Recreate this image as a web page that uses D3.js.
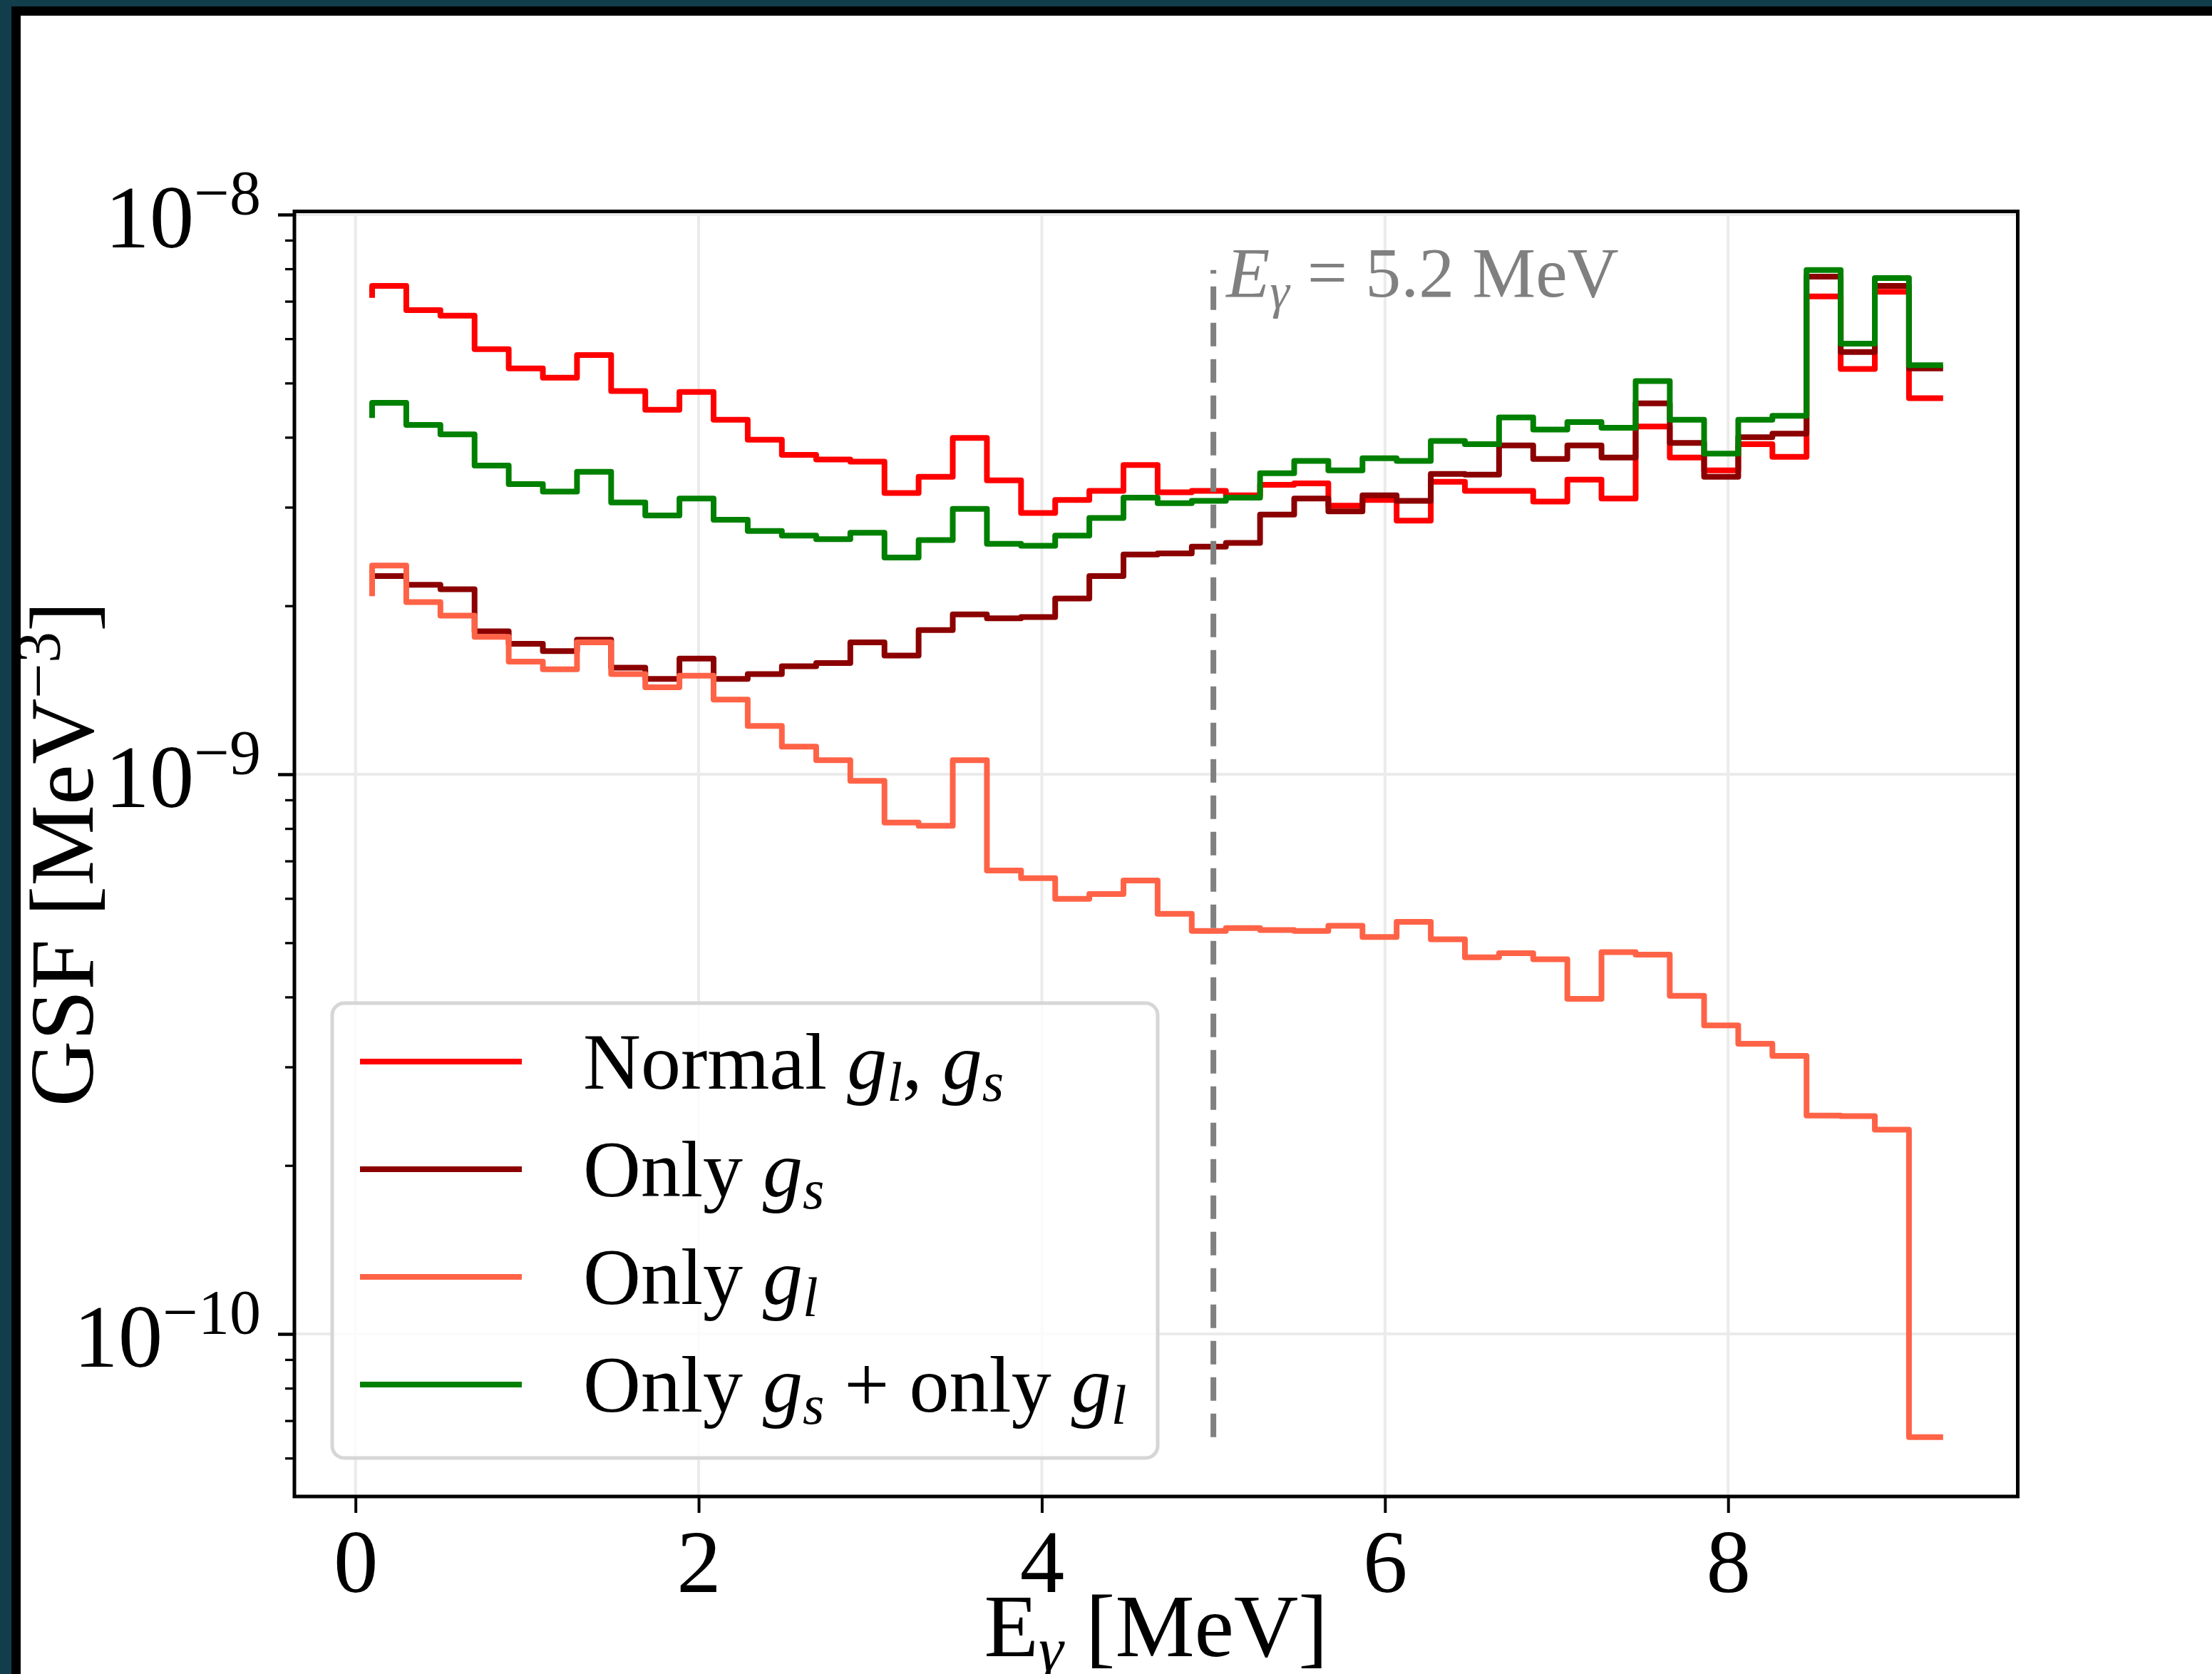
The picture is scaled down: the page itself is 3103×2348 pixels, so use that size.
<!DOCTYPE html>
<html><head><meta charset="utf-8">
<script src="https://cdn.jsdelivr.net/npm/d3@7"></script>
<style>html,body{margin:0;padding:0;background:#123e4c;} svg{display:block}</style>
</head><body>
<script>
// ---- data (GSF values in units of 1e-9 MeV^-3), step 'pre' points at bin edges ----
const binEdges = [0.097,0.296,0.495,0.694,0.893,1.092,1.291,1.490,1.689,1.888,2.087,2.286,2.485,2.685,2.884,3.083,3.282,3.481,3.680,3.879,4.078,4.277,4.476,4.675,4.874,5.073,5.272,5.471,5.670,5.869,6.068,6.267,6.466,6.665,6.864,7.063,7.262,7.461,7.660,7.860,8.059,8.258,8.457,8.656,8.855,9.054,9.253];
const normalGlGs = [7.10,7.46,6.75,6.60,5.75,5.31,5.11,5.61,4.84,4.48,4.82,4.30,3.96,3.72,3.65,3.62,3.18,3.40,3.99,3.35,2.93,3.09,3.21,3.57,3.19,3.21,3.15,3.29,3.31,3.02,3.09,2.84,3.33,3.21,3.21,3.07,3.36,3.11,4.18,3.68,3.49,3.89,3.69,7.14,5.30,7.28,4.70];
const onlyGs = [2.25,2.26,2.18,2.14,1.80,1.71,1.66,1.74,1.55,1.48,1.61,1.48,1.51,1.56,1.58,1.72,1.63,1.81,1.93,1.90,1.91,2.06,2.26,2.47,2.48,2.55,2.59,2.91,3.11,2.95,3.15,3.08,3.44,3.43,3.87,3.66,3.87,3.68,4.60,3.91,3.40,4.00,4.06,7.75,5.68,7.46,5.31];
const onlyGl = [2.08,2.36,2.03,1.92,1.76,1.59,1.54,1.72,1.51,1.43,1.50,1.36,1.22,1.12,1.06,0.973,0.820,0.809,1.06,0.673,0.652,0.599,0.611,0.646,0.563,0.525,0.531,0.527,0.525,0.536,0.512,0.545,0.507,0.471,0.479,0.467,0.397,0.481,0.476,0.402,0.356,0.330,0.314,0.2456,0.245,0.2318,0.0654];
const onlyGsPlusGl = [4.33,4.61,4.21,4.05,3.56,3.30,3.20,3.47,3.06,2.90,3.11,2.85,2.72,2.67,2.63,2.70,2.44,2.62,2.98,2.58,2.56,2.67,2.87,3.12,3.05,3.08,3.12,3.45,3.63,3.49,3.67,3.63,3.94,3.89,4.34,4.13,4.26,4.16,5.04,4.30,3.74,4.30,4.37,7.96,5.88,7.70,5.38];
const unit = 1e-9;
const seriesNames = ["Normal", "Only gs", "Only gl", "Only gs + only gl"];
const seriesColors = ["#ff0000", "#8b0000", "#ff6347", "#008000"];
const xTicks = [0, 2, 4, 6, 8];
const yTickExponents = [-8, -9, -10];
const yMinorMultipliers = [2,3,4,5,6,7,8,9];
const markerEnergy = 5.0;
const markerText = "5.2 MeV";

// ---- layout ----
const W = 3103, H = 2348;
const P = {left: 413, right: 2830.5, top: 296.5, bottom: 2099};
const serif = "'Liberation Serif','DejaVu Serif',serif";

const svg = d3.select("body").append("svg").attr("width", W).attr("height", H);
// outer frame
svg.append("rect").attr("x",0).attr("y",0).attr("width",W).attr("height",H).attr("fill","#123e4c");
svg.append("rect").attr("x",16).attr("y",9).attr("width",W-16).attr("height",H-9).attr("fill","#000");
svg.append("rect").attr("x",29).attr("y",22).attr("width",W-29).attr("height",H-22).attr("fill","#fff");

const x = d3.scaleLinear().domain([-0.356, 9.688]).range([P.left, P.right]);
const y = d3.scaleLog().domain([Math.pow(10,-10.2904), Math.pow(10,-7.9943)]).range([P.bottom, P.top]);

// grid
const grid = svg.append("g").attr("stroke","#ebebeb").attr("stroke-width",4);
xTicks.forEach(t => grid.append("line").attr("x1",x(t)).attr("x2",x(t)).attr("y1",P.top).attr("y2",P.bottom));
yTickExponents.forEach(e => grid.append("line").attr("x1",P.left).attr("x2",P.right).attr("y1",y(Math.pow(10,e))).attr("y2",y(Math.pow(10,e))));

// series
const allSeries = [normalGlGs, onlyGs, onlyGl, onlyGsPlusGl];
const line = d3.line().x((d,i) => x(binEdges[i])).y(d => y(d*unit)).curve(d3.curveStepBefore);
allSeries.forEach((s, k) => {
  svg.append("path").attr("d", line(s)).attr("fill","none").attr("stroke", seriesColors[k])
    .attr("stroke-width", 8).attr("stroke-linejoin","round").attr("stroke-linecap","butt");
});

// vertical marker line
const allVals = allSeries.flat();
const vMin = d3.min(allVals)*unit, vMax = d3.max(allVals)*unit;
svg.append("line").attr("x1",x(markerEnergy)).attr("x2",x(markerEnergy))
  .attr("y1",y(vMin)).attr("y2",y(vMax)).attr("stroke","#808080").attr("stroke-width",8)
  .attr("stroke-dasharray","33,18");
const ann = svg.append("text").attr("x", x(markerEnergy)+18).attr("y", 416)
  .attr("font-family", serif).attr("font-size", 100).attr("fill", "#808080");
ann.append("tspan").attr("font-style","italic").text("E");
ann.append("tspan").attr("font-style","italic").attr("font-size",70).attr("dy",16).text("γ");
ann.append("tspan").attr("dy",-16).text(" = " + markerText);

// axes ticks
const xAxis = d3.axisBottom(x).tickValues(xTicks).tickSize(23).tickFormat(d3.format("d"));
const gx = svg.append("g").attr("transform", `translate(0,${P.bottom})`).call(xAxis);
gx.select(".domain").remove();
gx.selectAll(".tick line").attr("stroke","#000").attr("stroke-width",4);
gx.selectAll(".tick text").attr("y",134).attr("dy",0).attr("font-family",serif).attr("font-size",125).attr("fill","#000");

const majorVals = yTickExponents.map(e => Math.pow(10,e));
const minorVals = [];
[-11,-10,-9].forEach(e => yMinorMultipliers.forEach(m => { const v = m*Math.pow(10,e); if (v >= y.domain()[0] && v <= y.domain()[1]) minorVals.push(v); }));
const gy = svg.append("g").attr("transform", `translate(${P.left},0)`).call(d3.axisLeft(y).tickValues(majorVals).tickSize(23).tickFormat(""));
gy.select(".domain").remove();
gy.selectAll(".tick line").attr("stroke","#000").attr("stroke-width",4.5);
const gym = svg.append("g").attr("transform", `translate(${P.left},0)`).call(d3.axisLeft(y).tickValues(minorVals).tickSize(13).tickFormat(""));
gym.select(".domain").remove();
gym.selectAll(".tick line").attr("stroke","#000").attr("stroke-width",3.3);

// y tick labels 10^e
yTickExponents.forEach(e => {
  const ty = y(Math.pow(10,e));
  const t = svg.append("text").attr("x",366).attr("y",ty+46).attr("text-anchor","end")
    .attr("font-family",serif).attr("font-size",125).attr("fill","#000");
  t.append("tspan").text("10");
  t.append("tspan").attr("font-size",88).attr("dy",-47).text("\u2212" + Math.abs(e));
});

// frame
svg.append("rect").attr("x",P.left).attr("y",P.top).attr("width",P.right-P.left).attr("height",P.bottom-P.top)
  .attr("fill","none").attr("stroke","#000").attr("stroke-width",5);

// axis labels
const xl = svg.append("text").attr("x",(P.left+P.right)/2).attr("y",2323).attr("text-anchor","middle")
  .attr("font-family",serif).attr("font-size",125).attr("fill","#000");
xl.append("tspan").text("E");
xl.append("tspan").attr("font-style","italic").attr("font-size",88).attr("dy",20).text("γ");
xl.append("tspan").attr("dy",-20).text(" [MeV]");

const yl = svg.append("text").attr("transform",`translate(130,${(P.top+P.bottom)/2}) rotate(-90)`)
  .attr("text-anchor","middle").attr("font-family",serif).attr("font-size",128).attr("fill","#000");
yl.append("tspan").text("GSF [MeV");
yl.append("tspan").attr("font-size",88).attr("dy",-47).text("\u22123");
yl.append("tspan").attr("dy",47).text("]");

// legend
const L = {x:466, y:1407, w:1158, h:638};
const lg = svg.append("g");
lg.append("rect").attr("x",L.x).attr("y",L.y).attr("width",L.w).attr("height",L.h).attr("rx",17).attr("ry",17)
  .attr("fill","#fff").attr("fill-opacity",0.8).attr("stroke","#d6d6d6").attr("stroke-width",5);
const rowY = [1489, 1640, 1791, 1942];
const labelParts = [
  [["Normal ",0],["g",1],["l",2],[", ",0],["g",1],["s",2]],
  [["Only ",0],["g",1],["s",2]],
  [["Only ",0],["g",1],["l",2]],
  [["Only ",0],["g",1],["s",2],[" + only ",0],["g",1],["l",2]]
];
seriesNames.forEach((n, k) => {
  lg.append("line").attr("x1",505).attr("x2",732).attr("y1",rowY[k]).attr("y2",rowY[k])
    .attr("stroke",seriesColors[k]).attr("stroke-width",8);
  const t = lg.append("text").attr("x",818).attr("y",rowY[k]+38).attr("font-family",serif)
    .attr("font-size",112).attr("fill","#000");
  let shifted = false;
  labelParts[k].forEach(([s, kind]) => {
    const sp = t.append("tspan").text(s);
    if (kind === 1) { sp.attr("font-style","italic"); if (shifted) { sp.attr("dy",-17); shifted=false; } }
    else if (kind === 2) { sp.attr("font-style","italic").attr("font-size",78).attr("dy",17); shifted = true; }
    else { if (shifted) { sp.attr("dy",-17); shifted=false; } }
  });
});
</script>
</body></html>
